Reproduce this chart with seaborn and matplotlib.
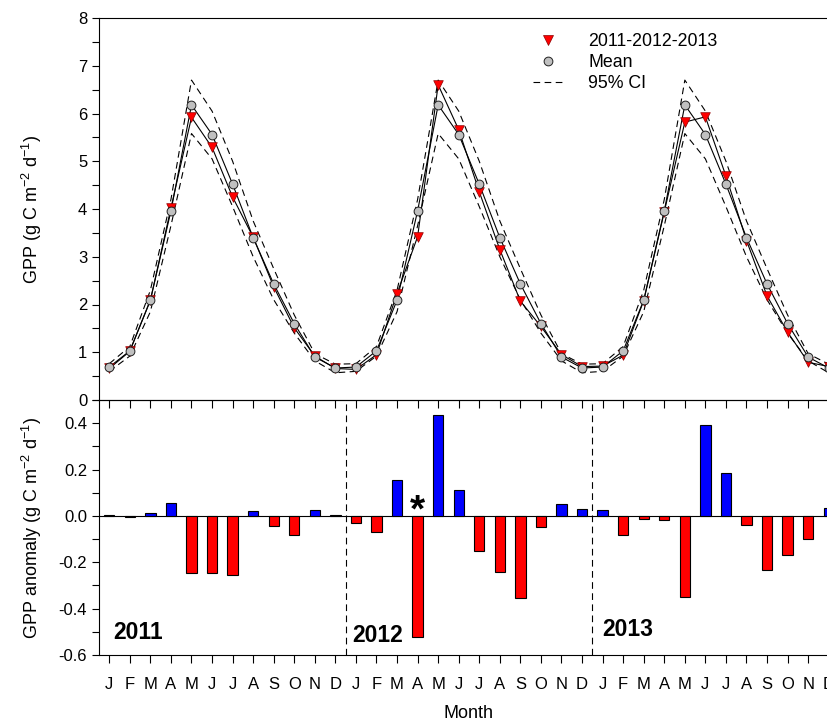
import numpy as np
import pandas as pd
import matplotlib
matplotlib.use("Agg")
import matplotlib.pyplot as plt
from matplotlib.lines import Line2D
from matplotlib.ticker import MultipleLocator, FixedLocator
import seaborn as sns

# ---------------- data ----------------
years = [2011, 2012, 2013]
month_letters = ["J", "F", "M", "A", "M", "J", "J", "A", "S", "O", "N", "D"]

# multi-year mean GPP (same climatology each year)
mean_clim = [0.69, 1.03, 2.09, 3.96, 6.18, 5.56, 4.52, 3.40, 2.43, 1.60, 0.90, 0.67]
ci_upper_clim = [0.76, 1.12, 2.30, 4.20, 6.70, 6.05, 5.00, 3.75, 2.75, 1.78, 0.97, 0.75]
ci_lower_clim = [0.60, 0.92, 1.85, 3.65, 5.58, 5.05, 4.05, 3.00, 2.10, 1.40, 0.82, 0.57]

# observed GPP 2011-2012-2013
gpp_obs = [0.66, 1.02, 2.09, 4.02, 5.92, 5.29, 4.25, 3.41, 2.37, 1.51, 0.92, 0.66,
           0.64, 0.95, 2.23, 3.42, 6.60, 5.66, 4.36, 3.15, 2.07, 1.54, 0.95, 0.70,
           0.71, 0.94, 2.08, 3.94, 5.82, 5.93, 4.69, 3.34, 2.18, 1.42, 0.79, 0.70]

# GPP anomaly
gpp_anom = [0.003, -0.003, 0.012, 0.056, -0.245, -0.247, -0.256, 0.022, -0.045, -0.083, 0.026, 0.003,
            -0.032, -0.069, 0.154, -0.524, 0.435, 0.112, -0.150, -0.240, -0.353, -0.049, 0.052, 0.030,
            0.024, -0.082, -0.012, -0.019, -0.350, 0.394, 0.183, -0.039, -0.235, -0.168, -0.098, 0.036]

n = len(years) * len(month_letters)
month_idx = list(range(1, n + 1))
df = pd.DataFrame({
    "m": month_idx,
    "mean": mean_clim * len(years),
    "up": ci_upper_clim * len(years),
    "lo": ci_lower_clim * len(years),
    "obs": gpp_obs,
    "anom": gpp_anom,
})
df["sign"] = np.where(df["anom"] >= 0, "pos", "neg")

# ---------------- style ----------------
sns.set_style("ticks")
plt.rcParams["font.family"] = ["Liberation Sans", "DejaVu Sans"]
plt.rcParams["mathtext.fontset"] = "custom"
plt.rcParams["mathtext.rm"] = "Liberation Sans"
plt.rcParams["mathtext.it"] = "Liberation Sans:italic"
plt.rcParams["axes.linewidth"] = 0.8
for key in ["text.color", "axes.labelcolor", "xtick.color", "ytick.color", "axes.edgecolor"]:
    plt.rcParams[key] = "black"

W, H = 828, 722
fig = plt.figure(figsize=(W / 100, H / 100), dpi=100)
left, right = 99, 839
ax1 = fig.add_axes([left / W, (H - 400) / H, (right - left) / W, 382 / H])
ax2 = fig.add_axes([left / W, (H - 655) / H, (right - left) / W, 255 / H])
ax2.set_facecolor("none")

# ---------------- top panel ----------------
dash = (0, (6, 4))
sns.lineplot(data=df, x="m", y="up", color="k", lw=0.8, ax=ax1, linestyle=dash)
sns.lineplot(data=df, x="m", y="lo", color="k", lw=0.8, ax=ax1, linestyle=dash)
sns.lineplot(data=df, x="m", y="obs", color="k", lw=0.8, ax=ax1)
sns.lineplot(data=df, x="m", y="mean", color="k", lw=0.8, ax=ax1)
sns.scatterplot(data=df, x="m", y="obs", marker="v", s=48, color="#ff0000",
                edgecolor="#8b0000", linewidth=0.5, ax=ax1, zorder=3)
sns.scatterplot(data=df, x="m", y="mean", marker="o", s=40, color="#c0c0c0",
                edgecolor="#202020", linewidth=0.7, ax=ax1, zorder=4)

ax1.set_xlim(0.5, n + 0.5)
ax1.set_ylim(0, 8)
ax1.yaxis.set_major_locator(MultipleLocator(1))
ax1.yaxis.set_minor_locator(MultipleLocator(0.5))
ax1.xaxis.set_major_locator(FixedLocator(month_idx))
ax1.tick_params(axis="x", which="both", bottom=True, top=False, direction="out",
                length=6, width=0.8, labelbottom=False)
ax1.tick_params(axis="y", which="both", direction="out", length=5, width=0.8, labelsize=12)
for s in ["top", "right", "left", "bottom"]:
    ax1.spines[s].set_visible(True)
ax1.set_xlabel("")
ax1.set_ylabel("GPP (g C m$^{-2}$ d$^{-1}$)", fontsize=13)
ax1.yaxis.set_label_coords(44 / W, 0.5 * (2 * H - 400 - 18) / H, transform=fig.transFigure)

handles = [
    Line2D([], [], marker="v", color="#ff0000", markeredgecolor="#8b0000", markeredgewidth=0.5,
           linestyle="none", markersize=7),
    Line2D([], [], marker="o", color="#c0c0c0", markeredgecolor="#202020", markeredgewidth=0.7,
           linestyle="none", markersize=6.3),
    Line2D([], [], color="k", lw=0.8, linestyle=dash),
]
ax1.legend(handles, ["2011-2012-2013", "Mean", "95% CI"], loc="upper left",
           bbox_to_anchor=(533 / W, (H - 33) / H), bbox_transform=fig.transFigure,
           frameon=False, fontsize=12.8, handlelength=1.7, handletextpad=1.4,
           labelspacing=0.22, borderpad=0, borderaxespad=0)

# ---------------- bottom panel ----------------
sns.barplot(data=df, x="m", y="anom", hue="sign", palette={"pos": "#0000ff", "neg": "#ff0000"},
            dodge=False, native_scale=True, width=0.5, edgecolor="k", linewidth=0.8,
            saturation=1, errorbar=None, legend=False, ax=ax2, zorder=2)
ax2.axhline(0, color="k", lw=0.8, zorder=1)
for xb in [12.5, 24.5]:
    ax2.axvline(xb, color="k", lw=0.8, linestyle=dash)

ax2.set_xlim(0.5, n + 0.5)
ax2.set_ylim(-0.6, 0.5)
ax2.yaxis.set_major_locator(FixedLocator([-0.6, -0.4, -0.2, 0.0, 0.2, 0.4]))
ax2.yaxis.set_minor_locator(MultipleLocator(0.1))
ax2.set_yticklabels(["-0.6", "-0.4", "-0.2", "0.0", "0.2", "0.4"])
ax2.xaxis.set_major_locator(FixedLocator(month_idx))
ax2.set_xticklabels(month_letters * len(years))
ax2.tick_params(axis="x", which="both", direction="out", length=6, width=0.8,
                labelsize=12, pad=10)
ax2.tick_params(axis="y", which="both", direction="out", length=5, width=0.8, labelsize=12)
for s in ["top", "right", "left", "bottom"]:
    ax2.spines[s].set_visible(True)
ax2.set_xlabel("Month", fontsize=13, labelpad=9)
ax2.set_ylabel("GPP anomaly (g C m$^{-2}$ d$^{-1}$)", fontsize=13)
ax2.yaxis.set_label_coords(44 / W, 0.5 * (2 * H - 655 - 400) / H, transform=fig.transFigure)

year_pos = [(1.2, -0.505), (12.8, -0.515), (25.0, -0.49)]
for yr, (xp, yp) in zip(years, year_pos):
    ax2.text(xp, yp, str(yr), fontsize=16.5, fontweight="bold", ha="left", va="center")
ax2.text(16, 0.02, "*", fontsize=28, fontweight="bold", ha="center", va="center")

fig.savefig("out.png", dpi=100)
